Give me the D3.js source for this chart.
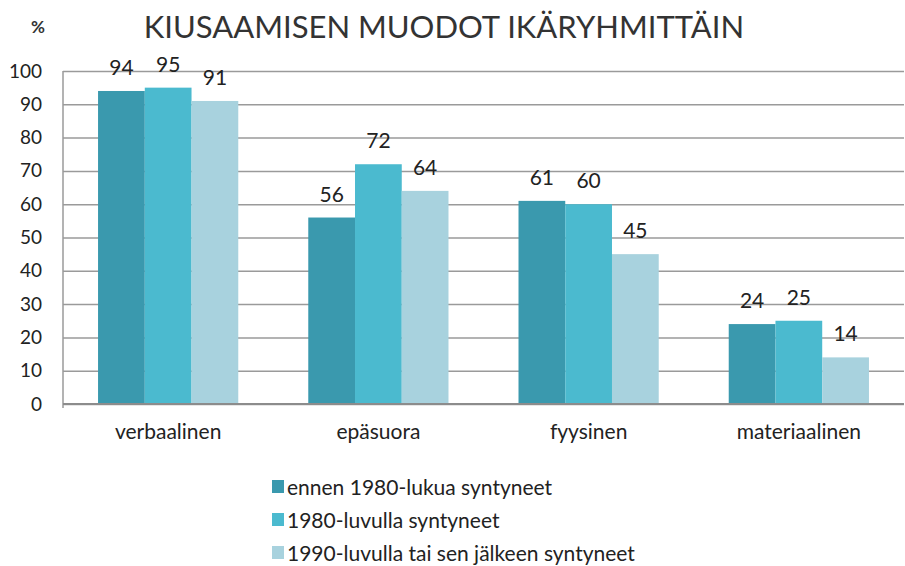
<!DOCTYPE html>
<html>
<head>
<meta charset="utf-8">
<script src="https://cdn.jsdelivr.net/npm/d3@7"></script>
<style>
  body { margin: 0; background: #fff; }
  svg { font-family: Lato, "Open Sans", sans-serif; }
</style>
</head>
<body>
<div id="chart"></div>
<script>
const categories = ["verbaalinen", "epäsuora", "fyysinen", "materiaalinen"];
const seriesNames = ["ennen 1980-lukua syntyneet", "1980-luvulla syntyneet", "1990-luvulla tai sen jälkeen syntyneet"];
const before1980 = [94, 56, 61, 24];
const in1980s = [95, 72, 60, 25];
const after1990 = [91, 64, 45, 14];
const yTicks = [0, 10, 20, 30, 40, 50, 60, 70, 80, 90, 100];
const colors = ["#3A99AE", "#4BBACF", "#A8D2DE"];

const width = 905, height = 566;
const margin = { top: 71, left: 63, right: 1, bottom: 162 };
const plotW = width - margin.left - margin.right;
const plotH = height - margin.top - margin.bottom;

const series = [before1980, in1980s, after1990];

const svg = d3.select("#chart").append("svg")
  .attr("width", width)
  .attr("height", height);

svg.append("text")
  .attr("x", 444)
  .attr("y", 38)
  .attr("text-anchor", "middle")
  .style("font-size", "31px")
  .style("fill", "#333")
  .text("KIUSAAMISEN MUODOT IKÄRYHMITTÄIN");

svg.append("text")
  .attr("x", 38)
  .attr("y", 33)
  .attr("text-anchor", "middle")
  .style("font-size", "17px")
  .style("font-weight", "bold")
  .style("fill", "#333")
  .text("%");

const g = svg.append("g")
  .attr("transform", `translate(${margin.left},${margin.top})`);

const x0 = d3.scaleBand().domain(categories).range([0, plotW]).paddingInner(0.333).paddingOuter(0.1667);
const x1 = d3.scaleBand().domain(d3.range(series.length)).range([0, x0.bandwidth()]);
const y = d3.scaleLinear().domain([0, 100]).range([plotH, 0]);

// gridlines
const yAxis = g.append("g")
  .call(d3.axisLeft(y).tickValues(yTicks).tickSize(-plotW).tickPadding(21));
yAxis.select(".domain").remove();
yAxis.selectAll("line")
  .style("stroke", "#9a9a9a")
  .style("stroke-width", 1.5);
yAxis.selectAll("text")
  .style("font-size", "19px")
  .style("fill", "#222")
  .style("font-family", "Lato, 'Open Sans', sans-serif");

// bars
const groups = g.selectAll(".grp")
  .data(categories)
  .join("g")
  .attr("transform", d => `translate(${x0(d)},0)`);

groups.selectAll("rect")
  .data((d, i) => series.map((s, k) => ({ k, v: s[i] })))
  .join("rect")
  .attr("x", d => x1(d.k))
  .attr("y", d => y(d.v))
  .attr("width", x1.bandwidth())
  .attr("height", d => plotH - y(d.v))
  .style("fill", d => colors[d.k]);

groups.selectAll(".lbl")
  .data((d, i) => series.map((s, k) => ({ k, v: s[i] })))
  .join("text")
  .attr("class", "lbl")
  .attr("x", d => x1(d.k) + x1.bandwidth() / 2)
  .attr("y", d => y(d.v) - 16)
  .attr("text-anchor", "middle")
  .style("font-size", "21px")
  .style("fill", "#222")
  .text(d => d.v);

// left axis line and baseline
g.append("line")
  .attr("x1", 0).attr("x2", 0)
  .attr("y1", 0).attr("y2", plotH + 4)
  .style("stroke", "#9a9a9a")
  .style("stroke-width", 1.5);
g.append("line")
  .attr("x1", 0).attr("x2", plotW)
  .attr("y1", plotH).attr("y2", plotH)
  .style("stroke", "#8c8c8c")
  .style("stroke-width", 2);

// category labels
const xAxis = g.append("g")
  .attr("transform", `translate(0,${plotH})`)
  .call(d3.axisBottom(x0).tickSize(0).tickPadding(20));
xAxis.select(".domain").remove();
xAxis.selectAll("text")
  .style("font-size", "21px")
  .style("fill", "#222")
  .style("font-family", "Lato, 'Open Sans', sans-serif");

// legend
const legend = svg.append("g")
  .attr("transform", "translate(272,480)");
const items = legend.selectAll("g")
  .data(seriesNames)
  .join("g")
  .attr("transform", (d, i) => `translate(0,${i * 33})`);
items.append("rect")
  .attr("width", 12).attr("height", 13)
  .style("fill", (d, i) => colors[i]);
items.append("text")
  .attr("x", 15)
  .attr("y", 15)
  .style("font-size", "21px")
  .style("fill", "#222")
  .text(d => d);
</script>
</body>
</html>
